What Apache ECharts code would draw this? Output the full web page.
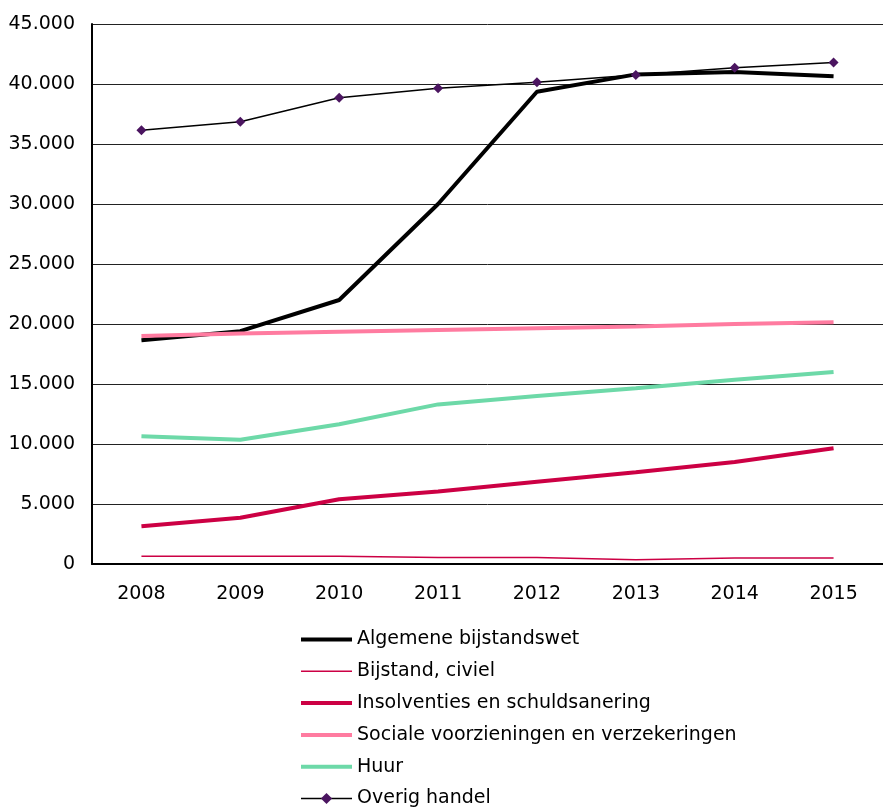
<!DOCTYPE html>
<html>
<head>
<meta charset="utf-8">
<script src="https://cdn.jsdelivr.net/npm/echarts@6/dist/echarts.min.js"></script>
<style>
  html, body { margin: 0; padding: 0; background: #fff; }
  #chart { width: 883px; height: 808px; }
</style>
</head>
<body>
<div id="chart"></div>
<script>
const years = ['2008', '2009', '2010', '2011', '2012', '2013', '2014', '2015']
const algemeneBijstandswet = [18650, 19400, 22000, 30000, 39350, 40800, 41000, 40650]
const bijstandCiviel = [650, 650, 650, 550, 550, 350, 500, 500]
const insolventies = [3150, 3850, 5400, 6050, 6850, 7650, 8500, 9650]
const socialeVoorzieningen = [19000, 19200, 19350, 19500, 19650, 19800, 20000, 20150]
const huur = [10650, 10350, 11650, 13300, 14000, 14650, 15350, 16000]
const overigHandel = [36150, 36850, 38850, 39650, 40150, 40750, 41350, 41800]

const chart = echarts.init(document.getElementById('chart'))
const font = 'DejaVu Sans, Arial, sans-serif'

const fmt = v => String(v).replace(/\B(?=(\d{3})+(?!\d))/g, '.')

const line = (name, data, color, width) => ({
  name, type: 'line', data, symbol: 'none',
  lineStyle: { color, width },
  itemStyle: { color },
  animation: false
})

// legend entries without a marker: hide the symbol, keep the line
const plain = (name, color, width) => ({
  name, itemStyle: { opacity: 0 }, lineStyle: { color, width }
})

chart.setOption({
  backgroundColor: '#fff',
  textStyle: { fontFamily: font },
  grid: { left: 92, right: -11, top: 24, bottom: 244 },
  xAxis: {
    type: 'category', data: years, boundaryGap: true,
    axisLine: { lineStyle: { color: '#000', width: 2 } },
    axisTick: { show: false },
    axisLabel: { color: '#000', fontSize: 19, margin: 21, fontFamily: font }
  },
  yAxis: {
    type: 'value', min: 0, max: 45000, interval: 5000,
    axisLine: { show: true, lineStyle: { color: '#000', width: 2 } },
    axisTick: { show: false },
    splitLine: { lineStyle: { color: '#222', width: 1 } },
    axisLabel: { color: '#000', fontSize: 19, margin: 17, fontFamily: font, formatter: fmt }
  },
  legend: {
    orient: 'vertical', left: 299, top: 630, padding: 0,
    itemWidth: 51, itemHeight: 14, itemGap: 12.8,
    textStyle: { fontSize: 19, color: '#000', fontFamily: font },
    data: [
      plain('Algemene bijstandswet', '#000000', 4),
      plain('Bijstand, civiel', '#CC0044', 1.5),
      plain('Insolventies en schuldsanering', '#CC0044', 4),
      plain('Sociale voorzieningen en verzekeringen', '#FF7BA0', 4),
      plain('Huur', '#6DD9A8', 4),
      { name: 'Overig handel', itemStyle: { color: '#4B1560' }, lineStyle: { color: '#000', width: 1.5 } }
    ]
  },
  series: [
    line('Algemene bijstandswet', algemeneBijstandswet, '#000000', 4),
    line('Bijstand, civiel', bijstandCiviel, '#CC0044', 1.5),
    line('Insolventies en schuldsanering', insolventies, '#CC0044', 4),
    line('Sociale voorzieningen en verzekeringen', socialeVoorzieningen, '#FF7BA0', 4),
    line('Huur', huur, '#6DD9A8', 4),
    {
      name: 'Overig handel', type: 'line', data: overigHandel,
      symbol: 'diamond', symbolSize: 10,
      lineStyle: { color: '#000', width: 1.5 },
      itemStyle: { color: '#4B1560' },
      animation: false
    }
  ]
})
</script>
</body>
</html>
